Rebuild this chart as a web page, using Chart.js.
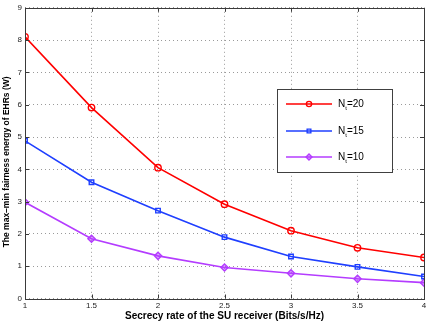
<!DOCTYPE html>
<html><head><meta charset="utf-8">
<script src="https://cdn.jsdelivr.net/npm/chart.js@4/dist/chart.umd.min.js"></script>
<style>html,body{margin:0;padding:0;background:#fff}#wrap{width:436px;height:327px;position:relative}</style>
</head><body><div id="wrap"><canvas id="c" width="436" height="327"></canvas></div>
<script>
const rates = [1, 1.5, 2, 2.5, 3, 3.5, 4];
const nt20 = [8.10, 5.91, 4.05, 2.92, 2.10, 1.57, 1.27];
const nt15 = [4.88, 3.60, 2.72, 1.90, 1.30, 0.98, 0.68];
const nt10 = [2.98, 1.85, 1.32, 0.96, 0.78, 0.61, 0.49];
const seriesNames = ['20', '15', '10'];
const xTickLabels = ['1', '1.5', '2', '2.5', '3', '3.5', '4'];
const yTickLabels = ['0','1','2','3','4','5','6','7','8','9'];
const xTitle = 'Secrecy rate of the SU receiver (Bits/s/Hz)';
const yTitle = 'The max\u2013min fairness energy of EHRs (W)';

const colors = ['#ff0000', '#1f3fff', '#b43cff'];
const fills = ['rgba(255,255,255,0)', 'rgba(255,255,255,0)', 'rgba(180,60,255,0.45)'];
const styles = ['circle', 'rect', 'rectRot'];
const radii = [3.2, 3.2, 3.6];
const datasets = [nt20, nt15, nt10].map((arr, i) => ({
  label: 'N_t=' + seriesNames[i],
  data: arr.map((v, j) => ({x: rates[j], y: v})),
  borderColor: colors[i],
  backgroundColor: fills[i],
  borderWidth: 1.6,
  pointStyle: styles[i],
  pointRadius: radii[i],
  pointBorderWidth: 1.4,
  pointBorderColor: colors[i],
  pointBackgroundColor: fills[i],
  tension: 0
}));

const framePlugin = {
  id: 'frame',
  afterDraw(chart) {
    const ctx = chart.ctx, a = chart.chartArea;
    const xs = chart.scales.x, ys = chart.scales.y;
    ctx.save();
    ctx.strokeStyle = '#3a3a3a';
    ctx.lineWidth = 1;
    ctx.strokeRect(Math.round(a.left) + 0.5, Math.round(a.top) + 0.5, Math.round(a.right - a.left), Math.round(a.bottom - a.top));
    ctx.beginPath();
    rates.forEach(v => {
      const px = Math.round(xs.getPixelForValue(v)) + 0.5;
      ctx.moveTo(px, a.bottom); ctx.lineTo(px, a.bottom - 4);
      ctx.moveTo(px, a.top); ctx.lineTo(px, a.top + 4);
    });
    yTickLabels.forEach((t, i) => {
      const py = Math.round(ys.getPixelForValue(i)) + 0.5;
      ctx.moveTo(a.left, py); ctx.lineTo(a.left + 4, py);
      ctx.moveTo(a.right, py); ctx.lineTo(a.right - 4, py);
    });
    ctx.stroke();
    // y-axis title (real text), placed like the reference
    ctx.save();
    ctx.translate(7, a.top + (a.bottom - a.top) * 0.53);
    ctx.rotate(-Math.PI / 2);
    ctx.fillStyle = '#000';
    ctx.font = 'bold 8.5px "Liberation Sans", Arial, sans-serif';
    ctx.textAlign = 'center'; ctx.textBaseline = 'middle';
    ctx.fillText(yTitle, 0, 0);
    ctx.restore();
    // legend
    const bx = Math.round(a.left + (a.right - a.left) * 0.632), by = Math.round(a.top + (a.bottom - a.top) * 0.28);
    const bw = 115, bh = 83;
    ctx.fillStyle = '#fff';
    ctx.fillRect(bx, by, bw, bh);
    ctx.strokeStyle = '#404040';
    ctx.strokeRect(bx + 0.5, by + 0.5, bw, bh);
    const rowY = [15, 42, 68];
    chart.data.datasets.forEach((ds, i) => {
      const y = by + rowY[i];
      ctx.strokeStyle = ds.borderColor; ctx.lineWidth = 1.6;
      ctx.beginPath(); ctx.moveTo(bx + 9, y); ctx.lineTo(bx + 55, y); ctx.stroke();
      ctx.lineWidth = 1.4;
      ctx.fillStyle = ds.pointBackgroundColor;
      ctx.strokeStyle = ds.pointBorderColor;
      Chart.helpers.drawPoint(ctx, {pointStyle: ds.pointStyle, radius: ds.pointRadius - 0.6, borderWidth: 1.4}, bx + 32, y);
      ctx.fillStyle = '#000';
      ctx.font = '10px "Liberation Sans", Arial, sans-serif';
      ctx.textBaseline = 'middle'; ctx.textAlign = 'left';
      ctx.fillText('N', bx + 61, y);
      const nw = ctx.measureText('N').width;
      ctx.font = '6px "Liberation Sans", Arial, sans-serif';
      ctx.fillText('t', bx + 61 + nw, y + 4);
      const tw = ctx.measureText('t').width;
      ctx.font = '10px "Liberation Sans", Arial, sans-serif';
      ctx.fillText('=' + seriesNames[i], bx + 61 + nw + tw, y);
    });
    ctx.restore();
  }
};

new Chart(document.getElementById('c'), {
  type: 'line',
  data: { datasets },
  options: {
    responsive: false,
    animation: false,
    devicePixelRatio: 1,
    layout: { padding: { left: 0, right: 12, top: 6.5, bottom: 0 } },
    plugins: { legend: { display: false }, tooltip: { enabled: false } },
    scales: {
      x: {
        type: 'linear', min: 1, max: 4,
        afterFit(s) { s.height = 28.5; },
        afterBuildTicks(s) { s.ticks = rates.map(v => ({value: v})); },
        ticks: { callback: (v, i) => xTickLabels[i], font: { size: 8, family: '"Liberation Sans", Arial, sans-serif' }, color: '#222', padding: 2, maxRotation: 0 },
        grid: { color: '#9a9a9a', lineWidth: 1, drawTicks: false },
        border: { display: false, dash: [1, 3] },
        title: { display: true, text: xTitle, font: { size: 10, weight: 'bold', family: '"Liberation Sans", Arial, sans-serif' }, color: '#000', padding: { top: 1, bottom: 5 } }
      },
      y: {
        type: 'linear', min: 0, max: 9,
        afterFit(s) { s.width = 25; },
        afterBuildTicks(s) { s.ticks = yTickLabels.map((t, i) => ({value: i})); },
        ticks: { callback: (v, i) => yTickLabels[i], font: { size: 8, family: '"Liberation Sans", Arial, sans-serif' }, color: '#222', padding: 3 },
        grid: { color: '#9a9a9a', lineWidth: 1, drawTicks: false },
        border: { display: false, dash: [1, 3] },
        title: { display: false }
      }
    }
  },
  plugins: [framePlugin]
});
</script></body></html>
